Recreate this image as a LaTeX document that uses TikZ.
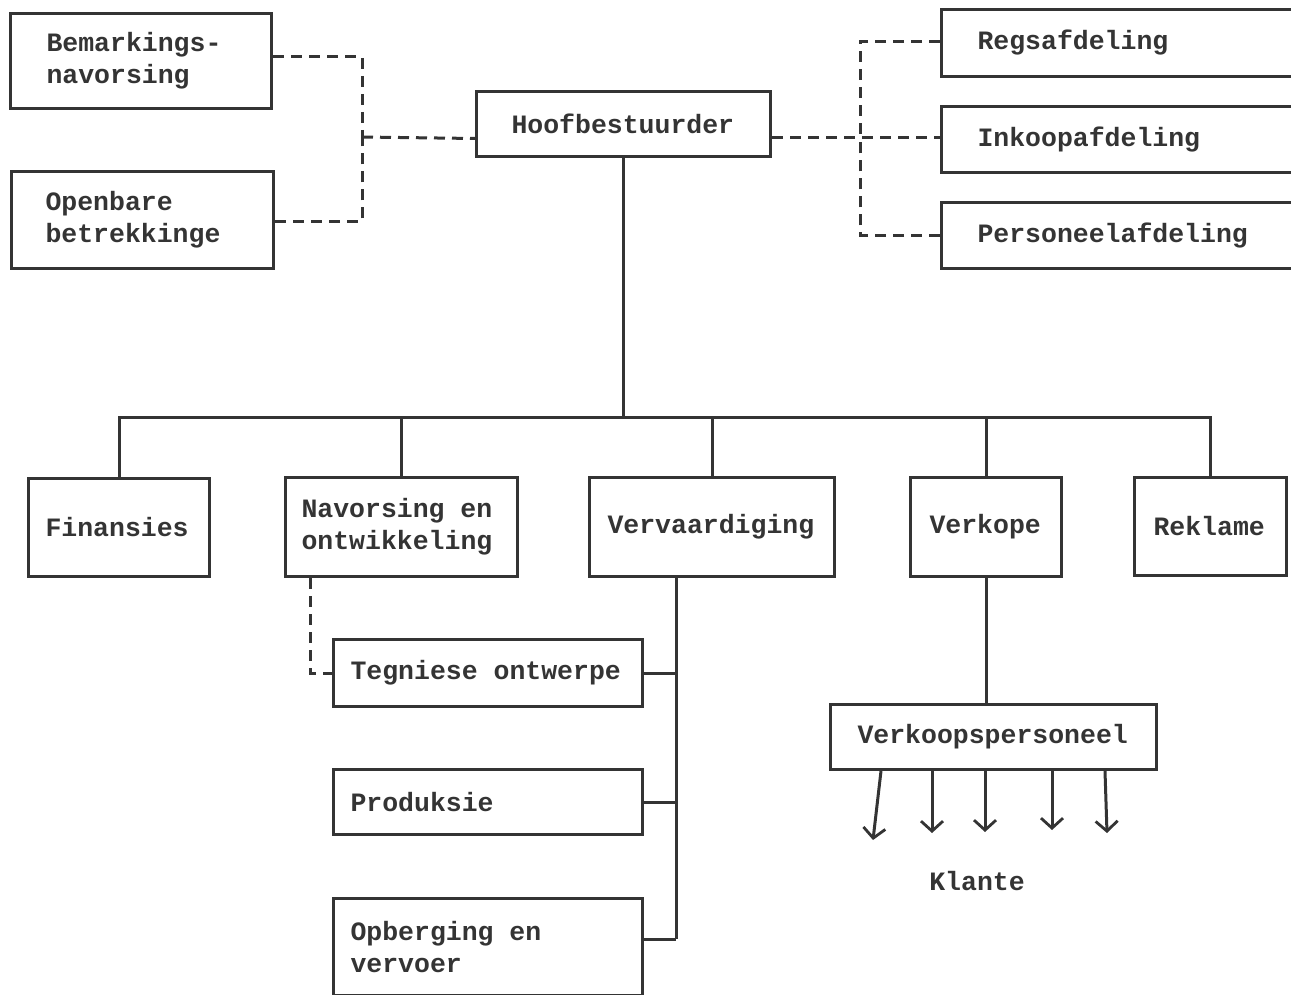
\documentclass[tikz,border=0pt]{standalone}
\usepackage{fontspec}
\setmainfont{Liberation Mono}
\usetikzlibrary{arrows.meta}
\definecolor{ink}{RGB}{52,52,52}
\begin{document}
\begin{tikzpicture}[x=1pt,y=-1pt,
  every node/.style={text=ink,font=\fontsize{26.5}{32}\selectfont\bfseries,
    execute at begin node={\spaceskip=15.9pt\relax}},
  box/.style={draw=ink,line width=3pt,anchor=north west,inner ysep=0pt,align=left},
  solid link/.style={draw=ink,line width=3pt},
  dash link/.style={draw=ink,line width=3pt,dash pattern=on 11pt off 7pt},
  tip link/.style={draw=ink,line width=3pt,-{Straight Barb[length=10pt,width=22pt,line width=2.8pt]}}]
\useasboundingbox (0,0) rectangle (1291,995);

% staff boxes
\node[box,minimum width=261,minimum height=95,inner xsep=36,text width=189] (bem) at (9,12) {Bemarkings-\\navorsing};
\node[box,minimum width=262,minimum height=97,inner xsep=34,text width=194] (opb) at (10,170) {Openbare\\betrekkinge};
\node[box,minimum width=294,minimum height=65,inner xsep=35,text width=224] (hoof) at (475,90) {Hoofbestuurder};
\node[box,minimum width=360,minimum height=67,inner xsep=36,text width=288] (regs) at (940,8) {Regsafdeling};
\node[box,minimum width=360,minimum height=66,inner xsep=36,text width=288] (ink) at (940,105) {Inkoopafdeling};
\node[box,minimum width=360,minimum height=66,inner xsep=36,text width=288] (pers) at (940,201) {Personeelafdeling};

% line departments
\node[box,minimum width=181,minimum height=98,inner xsep=17,text width=147] (fin) at (27,477) {Finansies};
\node[box,minimum width=232,minimum height=99,inner xsep=16,text width=200] (nav) at (284,476) {Navorsing en\\ontwikkeling};
\node[box,minimum width=245,minimum height=99,inner xsep=18,text width=209] (verv) at (588,476) {Vervaardiging};
\node[box,minimum width=151,minimum height=99,inner xsep=19,text width=113] (verk) at (909,476) {Verkope};
\node[box,minimum width=152,minimum height=98,inner xsep=19,text width=114] (rek) at (1133,476) {Reklame};

% manufacturing sections
\node[box,minimum width=309,minimum height=67,inner xsep=17,text width=275] (teg) at (332,638) {Tegniese ontwerpe};
\node[box,minimum width=309,minimum height=65,inner xsep=17,text width=275] (prod) at (332,768) {Produksie};
\node[box,minimum width=309,minimum height=97,inner xsep=17,text width=275] (opbv) at (332,897) {Opberging en\\vervoer};

% sales staff and customers
\node[box,minimum width=326,minimum height=65,inner xsep=27,text width=272] (vkp) at (829,703) {Verkoopspersoneel};
\node (klante) at (977,881) {Klante};

% junctions
\coordinate (bus) at (hoof.south |- 0,417);
\coordinate (lj) at (362,137);
\coordinate (rj) at (860,136);
\coordinate (vt) at (676,575);
\coordinate (opbstub) at ([yshift=8pt]opbv.east);

% main hierarchy
\draw[solid link] (hoof.south) -- (bus);
\draw[solid link] (fin.north) -- (fin.north |- bus) -- (rek.north |- bus) -- (rek.north);
\draw[solid link] (nav.north) -- (nav.north |- bus);
\draw[solid link] (verv.north) -- (verv.north |- bus);
\draw[solid link] (verk.north) -- (verk.north |- bus);

% manufacturing trunk
\draw[solid link] (vt) -- (vt |- opbstub);
\draw[solid link] (teg.east) -- (teg.east -| vt);
\draw[solid link] (prod.east) -- (prod.east -| vt);
\draw[solid link] (opbstub) -- (opbstub -| vt);

% sales
\draw[solid link] (verk.south) -- (verk.south |- vkp.north);

% customers
\coordinate (k1) at (873,840);
\coordinate (k2) at (932,833);
\coordinate (k3) at (985,832);
\coordinate (k4) at (1052,830);
\coordinate (k5) at (1107,833);
\draw[tip link] ([xshift=52pt]vkp.south west) -- (k1);
\draw[tip link] ([xshift=103pt]vkp.south west) -- (k2);
\draw[tip link] ([xshift=156pt]vkp.south west) -- (k3);
\draw[tip link] ([xshift=223pt]vkp.south west) -- (k4);
\draw[tip link] ([xshift=276pt]vkp.south west) -- (k5);

% advisory (dashed) links
\draw[dash link] ([yshift=4pt]bem.east) -| (lj);
\draw[dash link] ([yshift=-1.5pt]opb.east) -| (lj);
\draw[dash link] (lj) -- ([yshift=-14.5pt]hoof.west);
\draw[dash link] ([yshift=-13.5pt]hoof.east) -- ([yshift=-13.5pt]hoof.east -| ink.west);
\draw[dash link] ([yshift=1.5pt]regs.west) -| (rj);
\draw[dash link] (pers.west) -| (rj);
\draw[dash link] ([xshift=26pt]nav.south west) |- (teg.west);
\end{tikzpicture}
\end{document}
